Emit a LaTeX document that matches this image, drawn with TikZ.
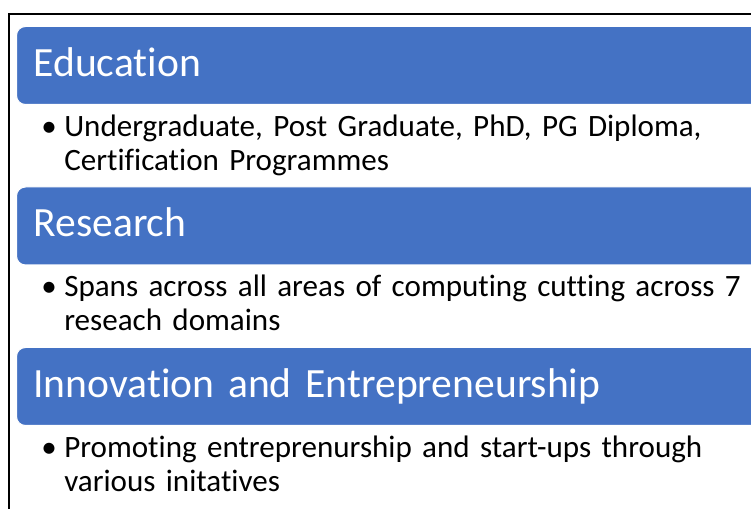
\documentclass[tikz,border=0pt]{standalone}
\usepackage{fontspec}
\setmainfont[Ligatures=NoCommon]{Carlito}
\usetikzlibrary{positioning}
\definecolor{sectionblue}{HTML}{4472C4}

\begin{document}
\begin{tikzpicture}[x=0.75pt,y=-0.75pt,node distance=61.125pt,
  head box/.style={fill=sectionblue,draw=white,line width=0.75pt,
    rounded corners=6.75pt,anchor=north west,inner xsep=12.75pt,inner ysep=0pt,
    text width=555pt,align=left,text height=37.5pt,text depth=21pt,
    font=\fontsize{31.2}{36}\selectfont,text=white},
  body text/.style={anchor=base west,inner sep=0pt,text width=525pt,align=left,
    font=\fontsize{23.3}{25.5}\selectfont},
  bullet mark/.style={anchor=base west,inner sep=0pt,
    font=\fontsize{23.3}{25.5}\selectfont}]

  \useasboundingbox (0,0) rectangle (751,509);
  \clip (0,0) rectangle (751,509);

  % outer frame
  \draw[line width=1.5pt] (9,530) -- (9,14) -- (780,14);

  \node[head box] (edu) at (16,26) {Education};
  \node[head box, below=of edu.south west, anchor=north west] (res) {Research};
  \node[head box, below=of res.south west, anchor=north west] (inn)
    {Innovation and Entrepreneurship};

  \node[bullet mark] (edu bullet) at (41,137) {•};
  \node[body text] (edu text) at (64,137)
    {Undergraduate, Post Graduate, PhD, PG Diploma,\\ Certification Programmes};
  \node[bullet mark] (res bullet) at (41,297) {•};
  \node[body text] (res text) at (64,297)
    {Spans across all areas of computing cutting across 7\\ reseach domains};
  \node[bullet mark] (inn bullet) at (41,458) {•};
  \node[body text] (inn text) at (64,458)
    {Promoting entreprenurship and start-ups through\\ various initatives};

\end{tikzpicture}
\end{document}
